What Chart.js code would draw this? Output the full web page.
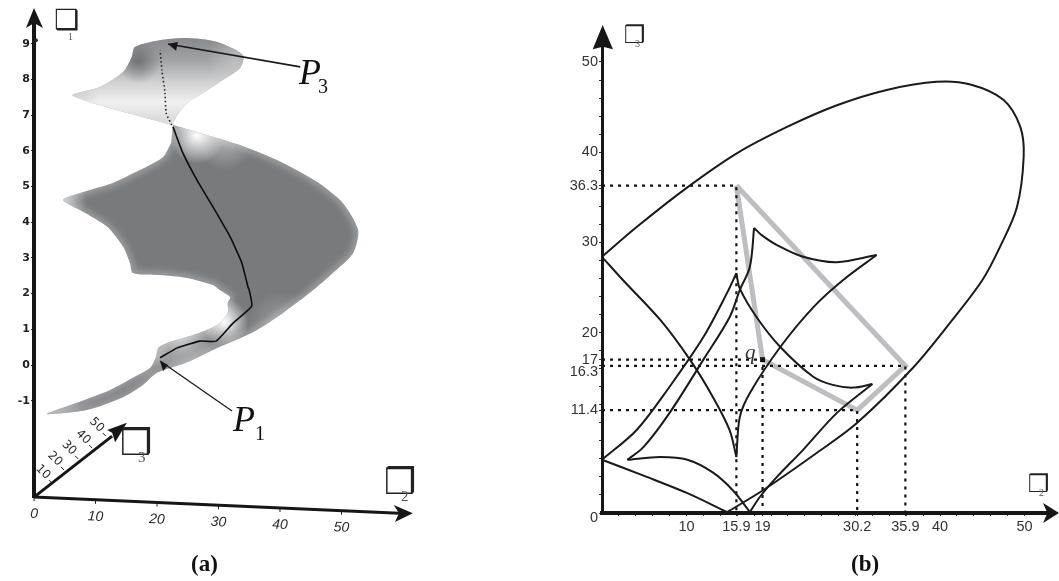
<!DOCTYPE html>
<html><head><meta charset="utf-8">
<style>html,body{margin:0;padding:0;background:#fff;width:1059px;height:581px;overflow:hidden}
canvas{position:absolute;top:0;display:block}</style>
<script src="https://cdn.jsdelivr.net/npm/chart.js@4/dist/chart.umd.min.js"></script>
</head><body>
<canvas id="a" width="530" height="581" style="left:0"></canvas>
<canvas id="b" width="529" height="581" style="left:530px"></canvas>
<script>
// ---------- panel (a) data ----------
const aHeightTicks=[-1,0,1,2,3,4,5,6,7,8,9];
const aX2Ticks=[0,10,20,30,40,50];
const aX3Ticks=[10,20,30,40,50];
const aX3LabelX=[1.46,3.4,5.7,8,10.2];
const aX3LabelY=[-3.0,-2.63,-2.32,-2.02,-1.68];
const aX2Axis=[[0,-3.7],[59.35,-4.15]];
const aX3Axis=[[0,-3.7],[12.7,-1.99]];
const aUpperLobe=[[22.4,6.72],[6.3,7.54],[10.7,7.79],[14.5,8.21],[15.9,8.63],[16.4,8.91],[20.5,9.10],[24.9,9.16],[29.8,9.05],[34.0,8.68],[33.5,8.32],[30.7,7.98],[27.5,7.62],[24.9,7.34],[23.3,7.00]];
const aLowerLobe=[[22.6,6.72],[27.0,6.50],[33.5,6.16],[40.5,5.66],[46.0,5.13],[50.2,4.54],[52.7,3.78],[51.9,3.14],[48.6,2.58],[45.4,2.10],[40.5,1.46],[35.6,0.92],[29.8,0.48],[24.9,0.08],[20.0,-0.22],[17.7,-0.56],[14.5,-0.90],[8.6,-1.26],[2.1,-1.37],[7.0,-1.06],[12.4,-0.70],[16.1,-0.36],[18.9,-0.08],[19.8,0.22],[20.2,0.48],[21.6,0.62],[25.9,0.84],[29.8,1.12],[31.5,1.46],[31.5,1.74],[31.9,1.90],[30.2,2.10],[29.1,2.24],[24.9,2.44],[20.5,2.52],[16.1,2.58],[15.6,2.86],[14.5,3.31],[11.9,3.87],[8.0,4.29],[4.7,4.62],[7.5,4.82],[12.8,5.10],[17.2,5.46],[21.0,5.83],[22.3,6.22]];
const aPathSolid=[[20.5,0.20],[23.3,0.48],[27,0.67],[29.6,0.67],[32.4,1.18],[35.4,1.65],[35,2.10],[34.8,2.18],[33.8,2.86],[31.9,3.59],[29.1,4.43],[26.5,5.18],[24.2,5.94],[22.6,6.67]];
const aPathDotted=[[22.4,6.72],[21.5,7.06],[21.3,7.62],[20.8,8.26],[20.5,8.82]];
const aLeaderP3=[[43.3,8.35],[21.8,8.99]];
const aLeaderP1=[[32.2,-1.29],[20.5,0.11]];
const aArrows=[
 [[0,10],[-1.3,9.44],[0,9.58],[1.46,9.44]],
 [[61.6,-4.15],[58.5,-3.92],[59.35,-4.15],[58.7,-4.40]],
 [[15.1,-1.62],[11.9,-1.82],[12.7,-1.90],[13.2,-2.16]],
 [[21.8,8.99],[23.4,9.05],[23.1,8.80]],
 [[20.5,0.11],[21.8,0],[21,-0.17]]
];
// ---------- panel (b) data ----------
const bXTicksLabelled=[10,15.9,19,30.2,35.9,40,50];
const bYTicksLabelled=[0,11.4,16.3,17,20,30,36.3,40,50];
const bMinorStep=[2,4,6,8,10,12,14,16,18,20,22,24,26,28,30,32,34,36,38,40,42,44,46,48,50];
const bOuter=[[0,28.4],[4.1,31.7],[10.1,36.1],[16.0,39.9],[21.9,42.8],[27.8,45.2],[33.7,46.9],[39.6,47.8],[43.6,47.5],[47.5,45.8],[49.5,42.8],[49.9,39.5],[49.1,33.9],[47.1,29.5],[45.0,25.8],[41.2,21.1],[36.8,16.1],[30.2,10],[25.4,6.65],[19.1,2.55],[14.8,0.1]];
const bBottomEdge=[[14.8,0.1],[10.1,2.2],[5.3,4.0],[0,5.9]];
const bCrossLeft=[[0,28.4],[2.5,25.8],[6.9,21.4],[10.4,17],[13.1,12.9],[15.1,9.2],[15.9,6.2]];
const bRightBranch=[[15.9,6.2],[16.3,10.6],[17.5,13.3],[21.1,18.4],[25,22.8],[28.5,25.8],[32.5,28.6]];
const bTopArc=[[32.5,28.6],[27.8,27.8],[23.8,28.4],[20.7,29.7],[18.9,30.8],[18,31.6]];
const bInnerLeft=[[18,31.6],[17.5,27.3],[16.3,24.7],[15.1,21.7],[12,17],[8,11.1],[4.9,7.3],[3,5.9]];
const bOuterLeft=[[0,5.9],[4.1,9.2],[8,14],[12,19.5],[14.8,24.4],[15.9,26.6]];
const bLowerArc=[[15.9,26.6],[16.3,24.9],[18.3,21.7],[21.1,18.4],[25,15.1],[27.3,14.2],[29.7,13.9],[32,14.3]];
const bDownRight=[[32,14.3],[27.8,11.1],[23.8,7],[20.7,4],[18.7,1.8],[17.5,0.1]];
const bBottomArc=[[3,5.9],[6.9,6.2],[10.1,5.9],[13.1,4.5],[15.5,2.5],[17.5,0.1]];
const bGreyPolygon=[[15.9,36.3],[35.9,16.3],[30.2,11.4],[19,17],[15.9,36.3]];
const bGuides=[[[0,36.3],[15.9,36.3],[15.9,0]],[[0,17],[19,17],[19,0]],[[0,16.3],[35.9,16.3],[35.9,0]],[[0,11.4],[30.2,11.4],[30.2,0]]];
const bPointQ=[[19,17]];
const bArrows=[
 [[0.08,54.1],[-1.1,51.4],[0.1,51.7],[1.3,51.4]],
 [[54.08,0],[52.2,1.1],[52.7,0],[52.2,-1.1]]
];
const pts=a=>a.map(p=>({x:p[0],y:p[1]}));
const INK='#1a1a1a';
const line=(d,o)=>Object.assign({data:pts(d),showLine:true,pointRadius:0,borderColor:INK,borderWidth:2,tension:0,fill:false,clip:false},o||{});

const helpers={
 id:'helpers',
 afterDatasetDraw(chart,args){
  const ds=chart.data.datasets[args.index]; if(!ds.glow) return;
  const c=chart.ctx,m=chart.getDatasetMeta(args.index).data,sx=chart.scales.x,sy=chart.scales.y;
  const path=()=>{c.beginPath();m.forEach((p,i)=>{
    if(!i){c.moveTo(p.x,p.y);return;}
    const q=m[i-1];
    if(q.cp2x!==undefined&&p.cp1x!==undefined)c.bezierCurveTo(q.cp2x,q.cp2y,p.cp1x,p.cp1y,p.x,p.y);else c.lineTo(p.x,p.y);
  });c.closePath();};
  c.save();path();c.clip();
  if(ds.vgrad){
   const g=c.createLinearGradient(0,sy.getPixelForValue(ds.vgrad[0]),0,sy.getPixelForValue(ds.vgrad[1]));
   ds.vgrad[2].forEach(s=>g.addColorStop(s[0],s[1]));
   c.fillStyle=g;c.fillRect(0,0,chart.width,chart.height);
  }
  ds.glow.forEach(g=>{
   const x=sx.getPixelForValue(g[0]),y=sy.getPixelForValue(g[1]);
   const r=c.createRadialGradient(x,y,0,x,y,g[2]);
   r.addColorStop(0,g[3]);r.addColorStop(1,g[3].replace(/[\d.]+\)$/,'0)'));
   c.fillStyle=r;c.fillRect(x-g[2],y-g[2],g[2]*2,g[2]*2);
  });
  if(ds.rim){c.filter='blur(3px)';path();c.strokeStyle=ds.rim;c.lineWidth=7;c.stroke();c.filter='none';}
  c.restore();
 },
 afterDatasetsDraw(chart,a,o){
  const c=chart.ctx,sx=chart.scales.x,sy=chart.scales.y,off=o.offset||0;
  c.save();c.fillStyle='#161616';
  (o.arrows||[]).forEach(poly=>{c.beginPath();poly.forEach((p,i)=>{const X=sx.getPixelForValue(p[0]),Y=sy.getPixelForValue(p[1]);i?c.lineTo(X,Y):c.moveTo(X,Y);});c.closePath();c.fill();});
  if(o.panelA){
   c.strokeStyle=INK;c.fillStyle='#2b2b2b';
   aX2Ticks.forEach(v=>{
    const X=sx.getPixelForValue(v),Y=sy.getPixelForValue(-3.7-0.0076*v);
    c.save();c.translate(X,Y+17);c.rotate(0.05);c.font='italic 14px "Liberation Sans"';c.textAlign='center';c.textBaseline='middle';c.fillText(String(v),0,0);c.restore();
    c.lineWidth=1;c.beginPath();c.moveTo(X,Y);c.lineTo(X,Y+4);c.stroke();
   });
   aX3Ticks.forEach((v,i)=>{
    const X=sx.getPixelForValue(aX3LabelX[i]),Y=sy.getPixelForValue(aX3LabelY[i]);
    c.save();c.translate(X,Y);c.rotate(Math.PI/4);c.font='12px "DejaVu Sans"';c.textAlign='center';c.textBaseline='middle';c.fillText(String(v),0,0);c.restore();
    c.lineWidth=1;c.beginPath();c.moveTo(X+6,Y+8);c.lineTo(X+9,Y+11);c.stroke();
   });
  }
  (o.texts||[]).forEach(t=>{c.font=t[3];c.fillStyle=t[4]||'#222';c.textAlign='left';c.textBaseline='middle';c.fillText(t[0],t[1]-off,t[2]);});
  c.restore();
 }
};
const SERIF='"Liberation Serif"',SQ='"DejaVu Sans"';

new Chart(document.getElementById('a'),{
 type:'scatter',
 data:{datasets:[
  line(aPathSolid,{borderWidth:1.6,borderColor:'#0c0c0c',tension:.15}),
  line(aPathDotted,{borderWidth:1.6,borderColor:'#222',borderDash:[1.5,2.5],tension:.2}),
  line(aLeaderP3,{borderWidth:1.6}),
  line(aLeaderP1,{borderWidth:1.3}),
  line(aX2Axis,{borderWidth:3,borderColor:'#161616'}),
  line(aX3Axis,{borderWidth:3,borderColor:'#161616'}),
  {data:pts([[53.3,-4.18],[0.3,9.1]]),pointRadius:2,pointBackgroundColor:'#222',pointBorderWidth:0,clip:false},
  line(aUpperLobe,{borderWidth:0,tension:.25,fill:'shape',backgroundColor:'#a8aaac',
   vgrad:[9.2,6.9,[[0,'#85888b'],[.3,'#a2a4a6'],[.55,'#cfd0d1'],[.8,'#f1f1f1'],[1,'#dcdcdc']]],
   glow:[[17,8.5,22,'rgba(80,82,85,0.6)'],[33,8.6,30,'rgba(255,255,255,0.3)'],[7,7.55,24,'rgba(190,190,190,0.5)']]}),
  line(aLowerLobe,{borderWidth:0,tension:.25,fill:'shape',backgroundColor:'#787b7e',rim:'rgba(255,255,255,0.28)',
   glow:[[26.5,6.42,28,'rgba(255,255,255,1)'],[31,6.3,30,'rgba(255,255,255,0.4)'],[31,1.2,24,'rgba(255,255,255,1)'],[24,0.75,40,'rgba(255,255,255,0.55)'],[40,1.2,32,'rgba(255,255,255,0.22)'],[4.7,4.62,24,'rgba(255,255,255,0.55)'],[3,-1.35,30,'rgba(255,255,255,0.3)'],[20,0.3,14,'rgba(255,255,255,0.25)']]})
 ]},
 options:{responsive:false,animation:false,events:[],
  layout:{padding:{top:23,bottom:84,right:117,left:0}},
  plugins:{legend:{display:false},tooltip:{enabled:false},
   helpers:{panelA:true,arrows:aArrows,offset:0,texts:[
    ['❑',54,22,'28px '+SQ,'#222'],['1',68,37,'10px '+SERIF,'#555'],
    ['❒',120,446,'36px '+SQ,'#222'],['3',138,458,'15px '+SERIF,'#555'],
    ['❒',384,485,'36px '+SQ,'#222'],['2',401,497,'15px '+SERIF,'#555'],
    ['P',299,75,'italic 36px '+SERIF,'#111'],['3',318,88,'20px '+SERIF,'#111'],
    ['P',233,422,'italic 36px '+SERIF,'#111'],['1',255,435,'20px '+SERIF,'#111'],
    ['(a)',191,565,'bold 23px '+SERIF,'#111']
   ]}},
  scales:{
   x:{type:'linear',min:0,max:61.63,display:false},
   y:{type:'linear',min:-3.697,max:9.58,
    afterFit(s){s.width=34;},
    afterBuildTicks(s){s.ticks=aHeightTicks.map(v=>({value:v}));},
    border:{display:true,width:4,color:'#161616'},
    grid:{drawOnChartArea:false,drawTicks:true,tickLength:3,tickColor:'#222'},
    ticks:{autoSkip:false,padding:1,color:'#222',font:{family:'"DejaVu Sans"',weight:'bold',size:11},callback:v=>String(v)}
   }
  }
 },
 plugins:[helpers]
});

const yLabel=v=>{const s=String(v);return v===16.3||v===0?['',s]:s;};
new Chart(document.getElementById('b'),{
 type:'scatter',
 data:{datasets:[
  {data:pts(bPointQ),pointStyle:'rect',pointRadius:3.5,pointBackgroundColor:'#111',pointBorderWidth:0},
  ...[bOuter,bBottomEdge,bCrossLeft,bRightBranch,bTopArc,bInnerLeft,bOuterLeft,bLowerArc,bDownRight,bBottomArc].map(d=>line(d,{tension:.32,borderWidth:2})),
  ...bGuides.map(d=>line(d,{borderDash:[3,5],borderColor:'#111',borderWidth:2.2})),
  line(bGreyPolygon,{borderColor:'#bdbec1',borderWidth:5,borderJoinStyle:'miter'})
 ]},
 options:{responsive:false,animation:false,events:[],
  layout:{padding:{top:47,right:12,left:0,bottom:0}},
  plugins:{legend:{display:false},tooltip:{enabled:false},
   helpers:{arrows:bArrows,offset:530,texts:[
    ['❒',624,37,'24px '+SQ,'#222'],['3',635,44,'10px '+SERIF,'#555'],
    ['❒',1028,486,'24px '+SQ,'#222'],['2',1039,493,'10px '+SERIF,'#555'],
    ['q',745,353,'italic 21px '+SERIF,'#333'],
    ['(b)',851,565,'bold 23px '+SERIF,'#111']
   ]}},
  scales:{
   x:{type:'linear',min:0,max:52.66,
    afterFit(s){s.height=68;},
    afterBuildTicks(s){s.ticks=[...new Set([...bMinorStep,...bXTicksLabelled])].sort((a,b)=>a-b).map(v=>({value:v}));},
    border:{display:true,width:4,color:'#161616'},
    grid:{drawOnChartArea:false,drawTicks:true,tickLength:3,tickColor:'#333',tickWidth:1},
    ticks:{autoSkip:false,maxRotation:0,minRotation:0,padding:2,color:'#333',font:{family:'"Liberation Sans"',size:14.5},
     callback:v=>bXTicksLabelled.includes(v)?String(v):''}
   },
   y:{type:'linear',min:0,max:51.66,
    afterFit(s){s.width=72;},
    afterBuildTicks(s){s.ticks=[...new Set([0,...bMinorStep,...bYTicksLabelled])].sort((a,b)=>a-b).map(v=>({value:v}));},
    border:{display:true,width:3,color:'#161616'},
    grid:{drawOnChartArea:false,drawTicks:true,tickLength:3,tickColor:'#333',tickWidth:1},
    ticks:{autoSkip:false,padding:1,color:'#333',
     font(ctx){const v=ctx.tick&&ctx.tick.value;return {family:'"Liberation Sans"',size:14.5,lineHeight:v===16.3?'12px':(v===0?'10px':'16px')};},
     callback:v=>bYTicksLabelled.includes(v)?yLabel(v):''}
   }
  }
 },
 plugins:[helpers]
});
</script></body></html>
